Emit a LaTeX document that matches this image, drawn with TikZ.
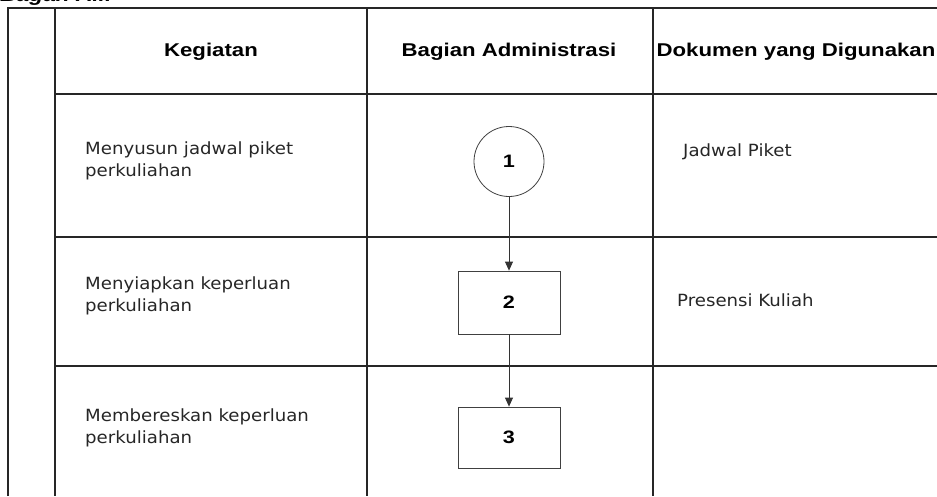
\documentclass[tikz,border=0pt]{standalone}
\usepackage{fontspec}
\setmainfont[FakeStretch=1.2]{Liberation Sans}
\newfontfamily\bodyfont[FakeStretch=1.08]{DejaVu Sans}
\usetikzlibrary{arrows.meta}

\begin{document}
\begin{tikzpicture}[x=1pt,y=-1pt,
  grid/.style={draw=black!85,line width=1.6pt},
  headtext/.style={font=\fontsize{18.5}{22}\selectfont\bfseries,inner sep=0pt,anchor=base},
  bodytext/.style={font=\bodyfont\fontsize{16.8}{22}\selectfont,inner sep=0pt,anchor=base west,align=left,text=black!85},
  startnode/.style={circle,draw=black!75,line width=0.8pt,minimum size=70pt,inner sep=0pt,
    font=\fontsize{18}{20}\selectfont\bfseries},
  procbox/.style={rectangle,draw=black!75,line width=0.8pt,minimum width=102pt,inner sep=0pt,
    font=\fontsize{18}{20}\selectfont\bfseries},
  flow/.style={draw=black!80,line width=0.8pt,-{Triangle[length=9pt,width=8pt]}}
]
\useasboundingbox (0,0) rectangle (937,496);
\clip (0,0) rectangle (937,496);

% heading of the chart
\node[font=\fontsize{19}{22}\selectfont\bfseries\itshape,inner sep=0pt,anchor=base west] (title) at (0,1) {Bagan Alir};

% table frame
\draw[grid] (8,496) -- (8,8) -- (937,8);
\draw[grid] (55,8) -- (55,496);
\draw[grid] (367,8) -- (367,496);
\draw[grid] (653,8) -- (653,496);
\draw[grid] (55,94) -- (937,94);
\draw[grid] (55,237) -- (937,237);
\draw[grid] (55,366) -- (937,366);

% column headings
\node[headtext] (h1) at (211,56) {Kegiatan};
\node[headtext] (h2) at (509,56) {Bagian Administrasi};
\node[headtext] (h3) at (796,56) {Dokumen yang Digunakan};

% activities (anchored at the baseline of the last line)
\node[bodytext] (k1) at (85,176.5) {Menyusun jadwal piket\\perkuliahan};
\node[bodytext] (k2) at (85,311.5) {Menyiapkan keperluan\\perkuliahan};
\node[bodytext] (k3) at (85,443.5) {Membereskan keperluan\\perkuliahan};

% documents
\node[bodytext] (d1) at (683,156) {Jadwal Piket};
\node[bodytext] (d2) at (677,306) {Presensi Kuliah};

% flow symbols
\node[startnode] (n1) at (509,161.5) {1};
\node[procbox,minimum height=63pt] (n2) at (509,302.5) {2};
\node[procbox,minimum height=61pt] (n3) at (509,437.5) {3};

\draw[flow] (n1) -- (n2);
\draw[flow] (n2) -- (n3);
\end{tikzpicture}
\end{document}
